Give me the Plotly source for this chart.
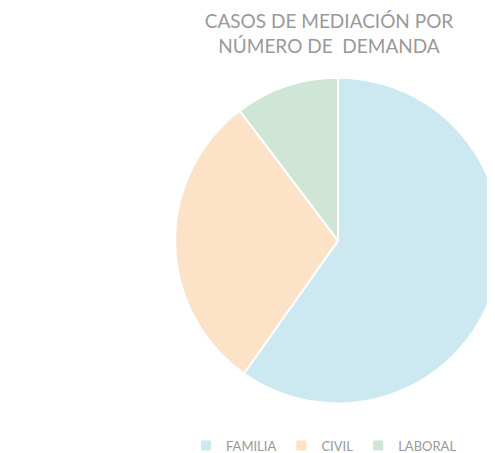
import plotly.graph_objects as go

labels = ["FAMILIA", "CIVIL", "LABORAL"]
values = [58, 29, 10]
colors = ["#cce8f1", "#fce3c8", "#cfe5d5"]

W, H = 495, 453
fig = go.Figure(go.Pie(
    labels=labels,
    values=values,
    sort=False,
    direction="clockwise",
    rotation=0,
    textinfo="none",
    hoverinfo="label+percent",
    marker=dict(colors=colors, line=dict(color="white", width=2)),
    domain=dict(x=[165 / W, 1.0], y=[(H - 408) / H, (H - 72) / H]),
))

fig.update_layout(
    width=W, height=H,
    margin=dict(l=0, r=0, t=0, b=0),
    paper_bgcolor="white",
    font=dict(family="Lato, sans-serif", color="#999999"),
    title=dict(
        text="CASOS DE MEDIACIÓN POR<br>NÚMERO DE  DEMANDA",
        x=321 / W, xanchor="center",
        y=1 - 20 / H, yanchor="top",
        font=dict(size=19, color="#999999", family="Lato, sans-serif"),
    ),
    showlegend=True,
    legend=dict(
        orientation="h",
        x=178 / W, xanchor="left",
        y=(H - 436) / H, yanchor="top",
        font=dict(size=13, color="#999999"),
        traceorder="normal",
    ),
)

fig.write_html("out.html")
